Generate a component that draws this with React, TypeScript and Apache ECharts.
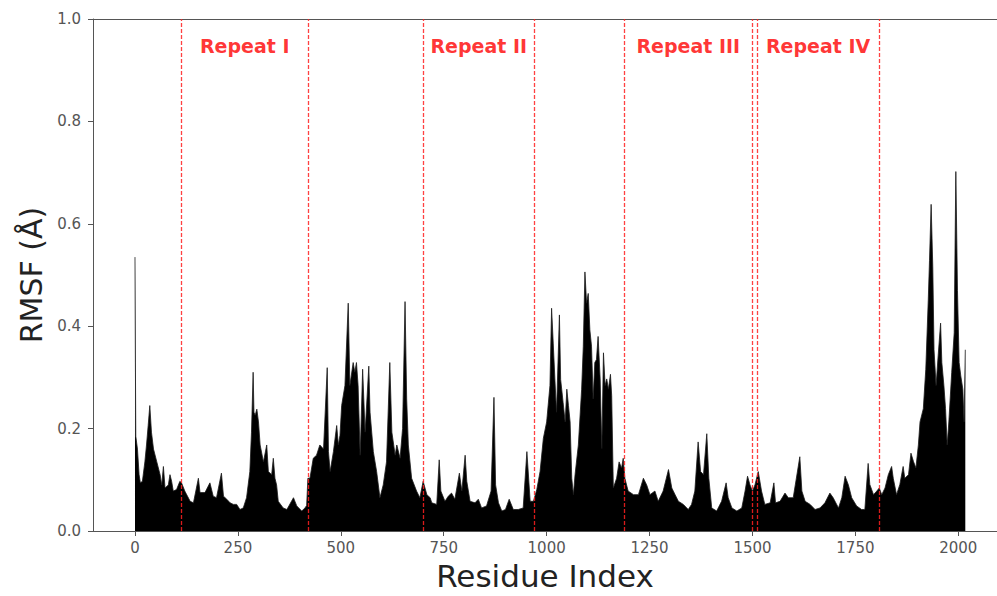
import React, { useEffect, useRef } from "react";
import * as echarts from "echarts";

// Residue index (x) and RMSF in Å (y)
const residues = [
  0, 1, 2, 6, 10, 13, 18, 24, 28, 32, 36, 40, 45, 53, 61, 65, 69, 73, 81, 85, 89, 93, 101, 109, 113, 121,
  134, 142, 154, 158, 170, 182, 190, 198, 210, 215, 223, 231, 239, 247, 255, 263, 271, 279, 283, 287,
  289, 292, 296, 300, 304, 312, 320, 324, 332, 336, 340, 344, 348, 360, 369, 385, 393, 405, 413, 417,
  420, 425, 433, 441, 449, 458, 467, 470, 474, 482, 490, 494, 498, 502, 510, 518, 522, 530, 534, 538,
  542, 547, 553, 559, 568, 571, 579, 587, 595, 603, 611, 619, 624, 632, 636, 644, 650, 656, 660, 664,
  672, 684, 692, 700, 709, 717, 721, 733, 739, 743, 753, 761, 769, 777, 788, 794, 802, 806, 814, 826,
  834, 842, 854, 865, 872, 876, 883, 891, 900, 909, 919, 931, 943, 952, 960, 968, 976, 984, 992, 1000,
  1008, 1012, 1016, 1020, 1024, 1031, 1034, 1040, 1045, 1049, 1053, 1057, 1061, 1065, 1069, 1077, 1085,
  1089, 1093, 1097, 1101, 1105, 1109, 1113, 1117, 1121, 1125, 1130, 1134, 1138, 1142, 1146, 1150, 1155,
  1158, 1162, 1170, 1176, 1182, 1186, 1190, 1198, 1211, 1223, 1235, 1243, 1251, 1263, 1271, 1283, 1296,
  1304, 1312, 1320, 1332, 1344, 1352, 1360, 1368, 1374, 1381, 1389, 1394, 1401, 1413, 1425, 1436, 1441,
  1450, 1462, 1474, 1482, 1488, 1494, 1500, 1506, 1514, 1522, 1530, 1543, 1552, 1556, 1567, 1579, 1587,
  1599, 1615, 1620, 1628, 1640, 1652, 1664, 1676, 1688, 1696, 1709, 1717, 1725, 1733, 1741, 1753, 1765,
  1773, 1781, 1785, 1794, 1802, 1808, 1814, 1822, 1830, 1838, 1842, 1850, 1858, 1866, 1870, 1879, 1885,
  1891, 1897, 1903, 1907, 1915, 1921, 1927, 1930, 1934, 1938, 1941, 1946, 1951, 1957, 1960, 1965, 1969,
  1973, 1977, 1984, 1990, 1994, 1998, 2002, 2006, 2011, 2014, 2017,
];
const rmsf = [
  0.535, 0.33, 0.185, 0.16, 0.11, 0.094, 0.097, 0.135, 0.168, 0.206, 0.245, 0.193, 0.16, 0.135, 0.11, 0.09,
  0.126, 0.084, 0.09, 0.11, 0.097, 0.078, 0.081, 0.097, 0.094, 0.078, 0.058, 0.055, 0.103, 0.075, 0.075,
  0.094, 0.068, 0.065, 0.113, 0.068, 0.062, 0.055, 0.052, 0.052, 0.042, 0.045, 0.065, 0.116, 0.193, 0.31,
  0.232, 0.226, 0.238, 0.213, 0.168, 0.135, 0.168, 0.116, 0.11, 0.142, 0.103, 0.09, 0.058, 0.045, 0.042,
  0.065, 0.049, 0.039, 0.045, 0.05, 0.103, 0.103, 0.142, 0.148, 0.168, 0.16, 0.319, 0.155, 0.116, 0.155,
  0.206, 0.168, 0.187, 0.245, 0.284, 0.445, 0.284, 0.329, 0.31, 0.329, 0.284, 0.148, 0.316, 0.193, 0.322,
  0.232, 0.155, 0.116, 0.065, 0.09, 0.135, 0.329, 0.193, 0.148, 0.168, 0.142, 0.2, 0.448, 0.258, 0.168,
  0.103, 0.078, 0.065, 0.097, 0.071, 0.065, 0.055, 0.052, 0.139, 0.078, 0.058, 0.068, 0.074, 0.062, 0.113,
  0.078, 0.148, 0.097, 0.058, 0.055, 0.062, 0.045, 0.049, 0.078, 0.261, 0.09, 0.055, 0.039, 0.042, 0.062,
  0.042, 0.042, 0.045, 0.155, 0.058, 0.058, 0.081, 0.116, 0.181, 0.213, 0.284, 0.435, 0.367, 0.297, 0.232,
  0.422, 0.296, 0.251, 0.213, 0.277, 0.245, 0.213, 0.103, 0.071, 0.11, 0.168, 0.277, 0.361, 0.506, 0.445,
  0.464, 0.393, 0.361, 0.258, 0.329, 0.335, 0.38, 0.297, 0.161, 0.348, 0.284, 0.297, 0.277, 0.306, 0.264,
  0.084, 0.103, 0.135, 0.123, 0.142, 0.103, 0.078, 0.071, 0.071, 0.103, 0.09, 0.071, 0.078, 0.058, 0.078,
  0.12, 0.084, 0.071, 0.058, 0.052, 0.042, 0.052, 0.078, 0.174, 0.116, 0.11, 0.19, 0.103, 0.045, 0.039,
  0.058, 0.094, 0.065, 0.045, 0.039, 0.045, 0.078, 0.107, 0.09, 0.078, 0.09, 0.116, 0.078, 0.052, 0.055,
  0.094, 0.055, 0.058, 0.074, 0.065, 0.065, 0.145, 0.078, 0.058, 0.052, 0.042, 0.045, 0.055, 0.074, 0.065,
  0.045, 0.065, 0.107, 0.09, 0.065, 0.049, 0.042, 0.042, 0.132, 0.091, 0.071, 0.078, 0.084, 0.071, 0.084,
  0.11, 0.126, 0.103, 0.071, 0.091, 0.126, 0.103, 0.11, 0.152, 0.136, 0.123, 0.168, 0.213, 0.239, 0.316,
  0.451, 0.528, 0.638, 0.516, 0.354, 0.284, 0.342, 0.406, 0.329, 0.284, 0.239, 0.168, 0.213, 0.31, 0.387,
  0.702, 0.47, 0.329, 0.303, 0.277, 0.213, 0.354,
];

// Repeat domain boundaries (residue index) and names
const repeatBounds = [113, 420, 700, 970, 1188, 1500, 1511, 1808];
const repeatNames = ["Repeat I", "Repeat II", "Repeat III", "Repeat IV"];
const repeatLabelLevel = 0.948;

const xTickValues = [0, 250, 500, 750, 1000, 1250, 1500, 1750, 2000];

const FONT = "DejaVu Sans";
const X_MIN = -102;
const X_MAX = 2094;

export default function App() {
  const ref = useRef<HTMLDivElement>(null);

  useEffect(() => {
    if (!ref.current) return;
    const chart = echarts.init(ref.current, null, { renderer: "svg" });

    const lineData = residues.map((r, i) => [r, rmsf[i]]);
    const labelData = repeatNames.map((name, i) => [
      (repeatBounds[2 * i] + repeatBounds[2 * i + 1]) / 2,
      repeatLabelLevel,
      name,
    ]);

    chart.setOption({
      animation: false,
      backgroundColor: "#ffffff",
      grid: {
        left: 93,
        right: 0,
        top: 19,
        bottom: 59,
        show: false,
      },
      xAxis: [
        {
          type: "value",
          min: X_MIN,
          max: X_MAX,
          name: "Residue Index",
          nameLocation: "middle",
          nameGap: 29,
          nameTextStyle: { fontFamily: FONT, fontSize: 31, color: "#222222" },
          axisLine: { show: true, onZero: false, lineStyle: { color: "#555555", width: 1 } },
          axisTick: {
            show: true,
            length: 5,
            lineStyle: { color: "#555555" },
            customValues: xTickValues,
          },
          axisLabel: {
            fontFamily: FONT,
            fontSize: 15,
            color: "#555555",
            margin: 9,
            customValues: xTickValues,
            formatter: (v: number) => String(v),
          },
          splitLine: { show: false },
        },
        {
          type: "value",
          position: "top",
          min: X_MIN,
          max: X_MAX,
          axisLine: { show: true, onZero: false, lineStyle: { color: "#555555", width: 1 } },
          axisTick: { show: false },
          axisLabel: { show: false },
          splitLine: { show: false },
        },
      ],
      yAxis: {
        type: "value",
        min: 0,
        max: 1,
        interval: 0.2,
        name: "RMSF (Å)",
        nameLocation: "middle",
        nameGap: 46,
        nameTextStyle: { fontFamily: FONT, fontSize: 30, color: "#222222" },
        axisLine: { show: true, onZero: false, lineStyle: { color: "#555555", width: 1 } },
        axisTick: { show: true, length: 5, lineStyle: { color: "#555555" } },
        axisLabel: {
          fontFamily: FONT,
          fontSize: 15,
          color: "#555555",
          margin: 12,
          formatter: (v: number) => v.toFixed(1),
        },
        splitLine: { show: false },
      },
      series: [
        {
          type: "line",
          xAxisIndex: 0,
          data: lineData,
          showSymbol: false,
          symbol: "none",
          lineStyle: { color: "#1a1a1a", width: 0.8 },
          areaStyle: { color: "#000000", opacity: 1 },
          silent: true,
          markLine: {
            silent: true,
            symbol: ["none", "none"],
            label: { show: false },
            lineStyle: { color: "#ff2020", width: 1.3, type: [4, 2], opacity: 0.85 },
            data: repeatBounds.map((b) => ({ xAxis: b })),
          },
          z: 2,
        },
        {
          type: "scatter",
          xAxisIndex: 0,
          data: labelData,
          symbolSize: 1,
          itemStyle: { color: "transparent" },
          silent: true,
          label: {
            show: true,
            position: "inside",
            formatter: (p: any) => p.data[2],
            fontFamily: FONT,
            fontSize: 19,
            fontWeight: "bold",
            color: "#ff0000",
          },
          z: 3,
        },
      ],
    });

    return () => chart.dispose();
  }, []);

  return (
    <div
      ref={ref}
      style={{ position: "absolute", left: 0, top: 0, width: 997, height: 596 }}
    />
  );
}
